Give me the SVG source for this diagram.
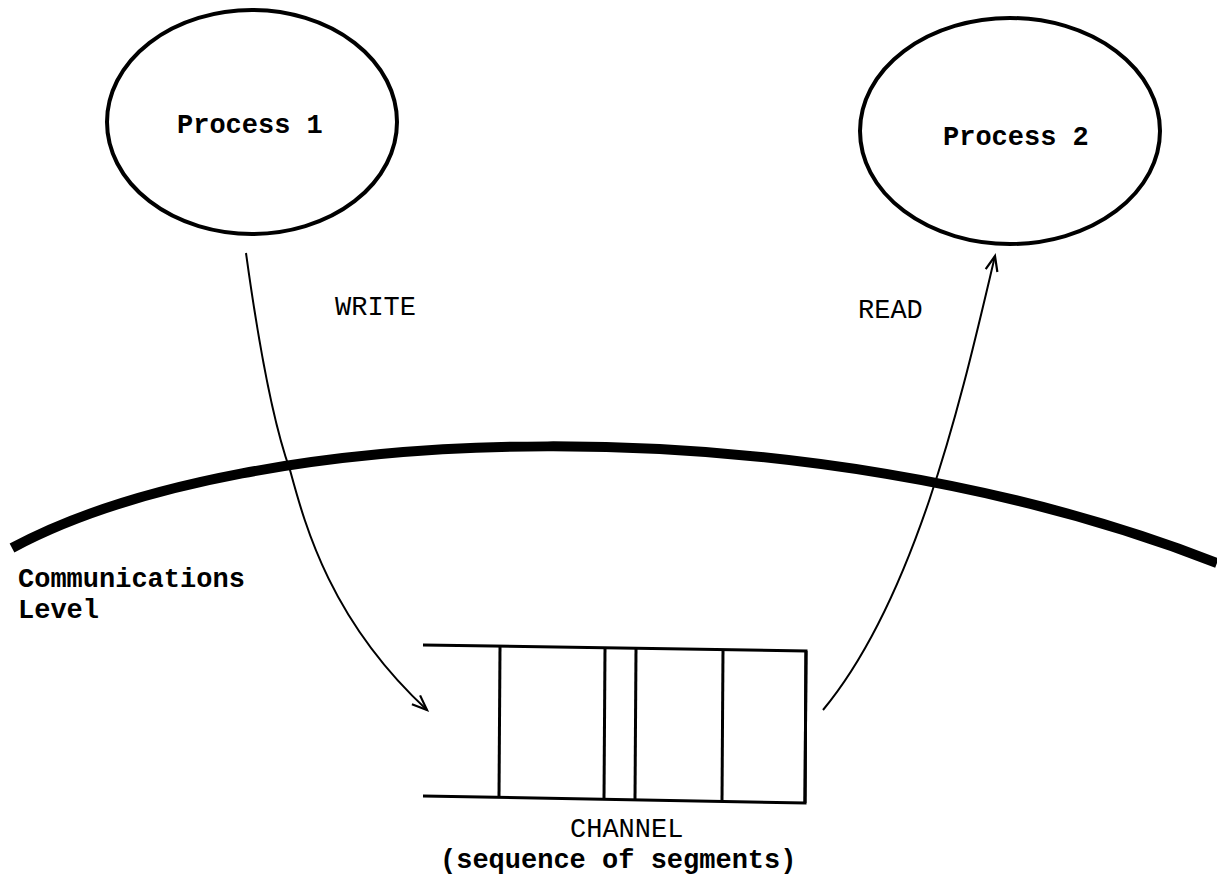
<svg xmlns="http://www.w3.org/2000/svg" width="1217" height="885" viewBox="0 0 1217 885">
<style>
.node { fill: #fff; stroke: #000; stroke-width: 4; }
.tw { font-family: "Liberation Mono", "Courier New", monospace; font-size: 27px; fill: #000; }
.twb { font-weight: bold; }
.conn { fill: none; stroke: #000; stroke-width: 2; }
.seg { stroke: #000; stroke-width: 3; fill: none; }
</style>
<defs>
<marker id="arr" markerUnits="userSpaceOnUse" viewBox="-16 -8 20 16" refX="0" refY="0" markerWidth="20" markerHeight="16" orient="auto">
<path d="M-15,-6 L0,0 L-15,6" fill="none" stroke="#000" stroke-width="2.2"/>
</marker>
</defs>
<rect width="1217" height="885" fill="#fff"/>
<g id="level">
<path d="M 12 548 C 250 420, 800 400, 1217 563" fill="none" stroke="#000" stroke-width="10"/>
<text class="tw twb" x="18" y="587">Communications</text>
<text class="tw twb" x="18" y="618">Level</text>
</g>
<g id="process1">
<ellipse class="node" cx="252" cy="122" rx="145" ry="112"/>
<text class="tw twb" x="177" y="133">Process 1</text>
</g>
<g id="process2">
<ellipse class="node" cx="1010" cy="131" rx="150" ry="113"/>
<text class="tw twb" x="943" y="145">Process 2</text>
</g>
<g id="channel">
<path class="seg" d="M423,645 L806,651 L805,803 L423,796" stroke-width="3.5"/>
<line class="seg" x1="806" y1="651" x2="805" y2="803" stroke-width="5"/>
<line class="seg" x1="500" y1="647" x2="499" y2="797"/>
<line class="seg" x1="605" y1="648" x2="604" y2="799"/>
<line class="seg" x1="636" y1="649" x2="635" y2="799"/>
<line class="seg" x1="723" y1="650" x2="722" y2="801"/>
<text class="tw" x="570" y="837">CHANNEL</text>
<text class="tw twb" x="440" y="868">(sequence of segments)</text>
</g>
<g id="connectors">
<path class="conn" d="M246,253 C258,340 272,420 290,470 C305,525 330,620 427,710" marker-end="url(#arr)"/>
<path class="conn" d="M823,710 C919,594 965,382 995,256" marker-end="url(#arr)"/>
<text class="tw" x="335" y="315">WRITE</text>
<text class="tw" x="858" y="318">READ</text>
</g>
</svg>
